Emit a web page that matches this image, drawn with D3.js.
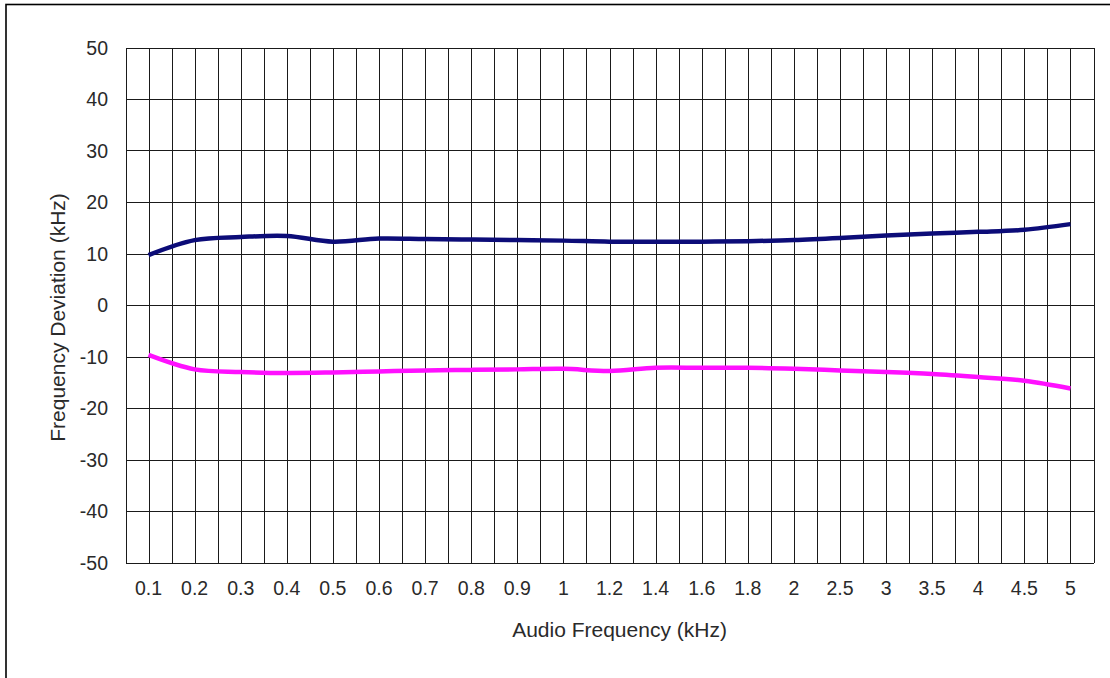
<!DOCTYPE html>
<html>
<head>
<meta charset="utf-8">
<script src="https://cdn.jsdelivr.net/npm/d3@7"></script>
<style>
  html, body { margin: 0; padding: 0; background: #fff; }
  svg { display: block; }
</style>
</head>
<body>
<svg id="chart" width="1110" height="678"></svg>
<script>
const categories = ["0.1","0.2","0.3","0.4","0.5","0.6","0.7","0.8","0.9","1","1.2","1.4","1.6","1.8","2","2.5","3","3.5","4","4.5","5"];
const positiveDeviation = [9.7,12.6,13.2,13.4,12.3,12.9,12.8,12.7,12.6,12.5,12.3,12.3,12.3,12.4,12.6,13.0,13.5,13.9,14.2,14.6,15.7];
const negativeDeviation = [-9.7,-12.5,-13.0,-13.2,-13.1,-12.9,-12.7,-12.6,-12.5,-12.4,-12.8,-12.2,-12.2,-12.2,-12.4,-12.7,-13.0,-13.4,-14.0,-14.7,-16.2];
const yTicks = [-50,-40,-30,-20,-10,0,10,20,30,40,50];
const xTitle = "Audio Frequency (kHz)";
const yTitle = "Frequency Deviation (kHz)";

const svg = d3.select("#chart");
const plotLeft = 125.5, plotRight = 1093.5, plotTop = 47.5, plotBottom = 562.5;

const x = d3.scaleBand().domain(categories).range([plotLeft, plotRight]).padding(0);
const y = d3.scaleLinear().domain([-50, 50]).range([plotBottom, plotTop]);

// outer frame (extends past the right/bottom edge)
svg.append("rect").attr("x", 6).attr("y", 4.5).attr("width", 1200).attr("height", 800)
  .attr("fill", "none").attr("stroke", "#000").attr("stroke-width", 1.6);

const grid = svg.append("g").attr("stroke", "#1a1a1a").attr("stroke-width", 1).attr("shape-rendering", "crispEdges");

// vertical gridlines: band edges and band centres
const vx = [];
categories.forEach(c => { vx.push(x(c)); vx.push(x(c) + x.bandwidth() / 2); });
vx.push(plotRight);
grid.selectAll("line.v").data(vx).join("line").attr("class", "v")
  .attr("x1", d => Math.round(d) + 0.5).attr("x2", d => Math.round(d) + 0.5)
  .attr("y1", plotTop).attr("y2", plotBottom);

// horizontal gridlines
grid.selectAll("line.h").data(yTicks).join("line").attr("class", "h")
  .attr("x1", plotLeft).attr("x2", plotRight)
  .attr("y1", d => Math.round(y(d)) + 0.5).attr("y2", d => Math.round(y(d)) + 0.5);

const font = "Liberation Sans, Arial, sans-serif";
const textColor = "#2a2a2a";

// y tick labels
svg.append("g").selectAll("text").data(yTicks).join("text")
  .attr("x", 108).attr("y", d => y(d)).attr("dy", "0.36em")
  .attr("text-anchor", "end")
  .attr("font-family", font).attr("font-size", 19.5)
  .attr("fill", textColor).text(d => d);

// x tick labels
svg.append("g").selectAll("text").data(categories).join("text")
  .attr("x", d => x(d) + x.bandwidth() / 2).attr("y", 594.5)
  .attr("text-anchor", "middle")
  .attr("font-family", font).attr("font-size", 19.5)
  .attr("fill", textColor).text(d => d);

// axis titles
svg.append("text").attr("x", 619.5).attr("y", 636.5).attr("text-anchor", "middle")
  .attr("font-family", font).attr("font-size", 21)
  .attr("fill", textColor).text(xTitle);
svg.append("text").attr("transform", "translate(65,317.5) rotate(-90)").attr("text-anchor", "middle")
  .attr("font-family", font).attr("font-size", 21)
  .attr("fill", textColor).text(yTitle);

// series lines
const line = d3.line()
  .x((d, i) => x(categories[i]) + x.bandwidth() / 2)
  .y(d => y(d))
  .curve(d3.curveCatmullRom.alpha(0.5));

svg.append("path").datum(positiveDeviation).attr("d", line)
  .attr("fill", "none").attr("stroke", "#0c0c78").attr("stroke-width", 4.5).attr("stroke-linecap", "butt");
svg.append("path").datum(negativeDeviation).attr("d", line)
  .attr("fill", "none").attr("stroke", "#ff10ff").attr("stroke-width", 4.5).attr("stroke-linecap", "butt");
</script>
</body>
</html>
